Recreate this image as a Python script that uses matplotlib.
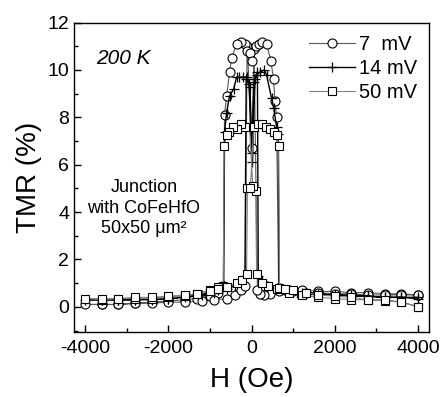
import numpy as np
import matplotlib.pyplot as plt
from matplotlib.ticker import MultipleLocator

plt.rcParams['font.family'] = ['Liberation Sans', 'DejaVu Sans']
plt.rcParams['axes.unicode_minus'] = False

# 7 mV: field sweep + -> - then - -> +
h_7mv = [4000, 3600, 3200, 2800, 2400, 2000, 1600, 1200, 900, 650, 450, 300, 200, 140,
         60, 0, -100, -170, -250, -360, -480, -530, -600, -650, -680, -800, -1000, -1300,
         -1600, -2000, -2400, -2800, -3200, -3600, -4000,
         -3600, -3200, -2800, -2400, -2000, -1600, -1200, -900, -600, -400, -250, -150,
         -110, -50, 0, 100, 170, 250, 360, 460, 530, 560, 600, 650, 800, 1000, 1300,
         1600, 2000, 2400, 2800, 3200, 3600, 4000]
tmr_7mv = [0.5, 0.55, 0.55, 0.6, 0.6, 0.65, 0.65, 0.7, 0.7, 0.65, 0.55, 0.5, 0.55, 0.7,
           10.9, 6.7, 11.0, 11.1, 11.2, 11.1, 10.5, 9.9, 8.9, 8.1, 0.9, 0.6, 0.45, 0.35,
           0.3, 0.25, 0.2, 0.15, 0.1, 0.1, 0.1,
           0.1, 0.1, 0.15, 0.15, 0.2, 0.2, 0.25, 0.3, 0.35, 0.5, 0.7, 0.9,
           10.8, 10.7, 10.4, 11.0, 11.1, 11.2, 11.1, 10.4, 9.6, 8.7, 8.0, 0.8, 0.7, 0.65,
           0.6, 0.6, 0.55, 0.55, 0.5, 0.5, 0.5, 0.5]

# 14 mV
h_14mv = [4000, 3600, 3200, 2800, 2400, 2000, 1600, 1200, 900, 600, 400, 250, 160, 140,
          80, 20, -40, -120, -200, -300, -360, -430, -530, -600, -650, -670, -800, -1100,
          -1500, -2000, -2400, -2800, -3200, -3600, -4000,
          -3600, -3200, -2800, -2400, -2000, -1600, -1200, -900, -600, -400, -250, -160,
          -130, -60, 0, 60, 120, 200, 300, 360, 480, 530, 600, 640, 660, 800, 1100, 1500,
          2000, 2400, 2800, 3200, 3600, 4000]
tmr_14mv = [0.35, 0.4, 0.4, 0.45, 0.5, 0.5, 0.55, 0.6, 0.7, 0.8, 0.9, 1.1, 1.3, 9.9,
            9.6, 6.1, 9.3, 9.7, 9.7, 9.7, 9.7, 9.2, 8.9, 8.2, 7.4, 0.9, 0.7, 0.55,
            0.45, 0.35, 0.3, 0.3, 0.3, 0.3, 0.3,
            0.3, 0.3, 0.3, 0.35, 0.35, 0.4, 0.5, 0.6, 0.75, 0.9, 1.1, 1.3,
            9.6, 9.4, 6.5, 9.5, 9.8, 9.9, 10.0, 9.8, 8.8, 8.4, 7.6, 7.3, 0.8, 0.7, 0.6, 0.55,
            0.5, 0.45, 0.45, 0.4, 0.4, 0.4]

# 50 mV
h_50mv = [4000, 3600, 3200, 2800, 2400, 2000, 1600, 1200, 900, 600, 400, 240, 120, 100,
          30, -50, -150, -250, -350, -450, -550, -600, -660, -680, -800, -1000, -1300,
          -1600, -2000, -2400, -2800, -3200, -3600, -4000,
          -3600, -3200, -2800, -2400, -2000, -1600, -1300, -1000, -800, -600, -360, -240,
          -120, -100, -30, 50, 150, 250, 350, 450, 550, 600, 650, 670, 800, 1000, 1300,
          1600, 2000, 2400, 2800, 3200, 3600, 4000]
tmr_50mv = [0.0, 0.2, 0.25, 0.3, 0.3, 0.35, 0.4, 0.5, 0.6, 0.75, 0.9, 1.0, 1.4, 4.9,
            5.1, 7.6, 7.6, 7.7, 7.5, 7.6, 7.4, 7.25, 6.8, 0.9, 0.85, 0.7, 0.55,
            0.45, 0.4, 0.35, 0.35, 0.35, 0.3, 0.35,
            0.35, 0.35, 0.4, 0.4, 0.45, 0.5, 0.55, 0.65, 0.75, 0.85, 1.0, 1.15,
            1.4, 5.0, 5.0, 7.6, 7.7, 7.7, 7.6, 7.5, 7.4, 7.25, 6.8, 0.8, 0.75, 0.7, 0.6,
            0.5, 0.45, 0.4, 0.3, 0.3, 0.2, 0.0]

fig = plt.figure(figsize=(4.41, 3.97), dpi=100)
ax = fig.add_axes([0.168, 0.1645, 0.805, 0.7785])

ax.plot(h_7mv, tmr_7mv, color='0.35', lw=0.8, marker='o', ms=6.5,
        mfc='white', mec='black', mew=0.8, label='7  mV')
ax.plot(h_14mv, tmr_14mv, color='black', lw=1.0, marker='+', ms=7,
        mec='black', mew=0.9, label='14 mV')
ax.plot(h_50mv, tmr_50mv, color='0.5', lw=0.8, marker='s', ms=5.5,
        mfc='white', mec='black', mew=0.8, label='50 mV')

ax.set_xlim(-4265, 4265)
ax.set_ylim(-1.05, 12)
ax.xaxis.set_major_locator(MultipleLocator(2000))
ax.xaxis.set_minor_locator(MultipleLocator(1000))
ax.yaxis.set_major_locator(MultipleLocator(2))
ax.yaxis.set_minor_locator(MultipleLocator(1))
ax.tick_params(which='both', direction='in', top=False, right=False, labelsize=14)
ax.tick_params(axis='x', which='major', pad=6)
ax.tick_params(which='major', length=5, width=1)
ax.tick_params(which='minor', length=3, width=1)
for s in ax.spines.values():
    s.set_linewidth(1.0)

ax.set_xlabel('H (Oe)', fontsize=20, labelpad=7)
ax.set_ylabel('TMR (%)', fontsize=20, labelpad=4)

ax.text(0.063, 0.885, '200 K', transform=ax.transAxes, fontsize=15, style='italic',
        va='center')
ax.text(0.197, 0.40, 'Junction\nwith CoFeHfO\n50x50 μm²', transform=ax.transAxes,
        fontsize=13, ha='center', va='center', linespacing=1.3)

ax.legend(loc='upper right', frameon=False, fontsize=14.5, handlelength=2.3,
          handletextpad=0.2, labelspacing=0.25, borderaxespad=0.2)

fig.savefig('out.png', dpi=100)
